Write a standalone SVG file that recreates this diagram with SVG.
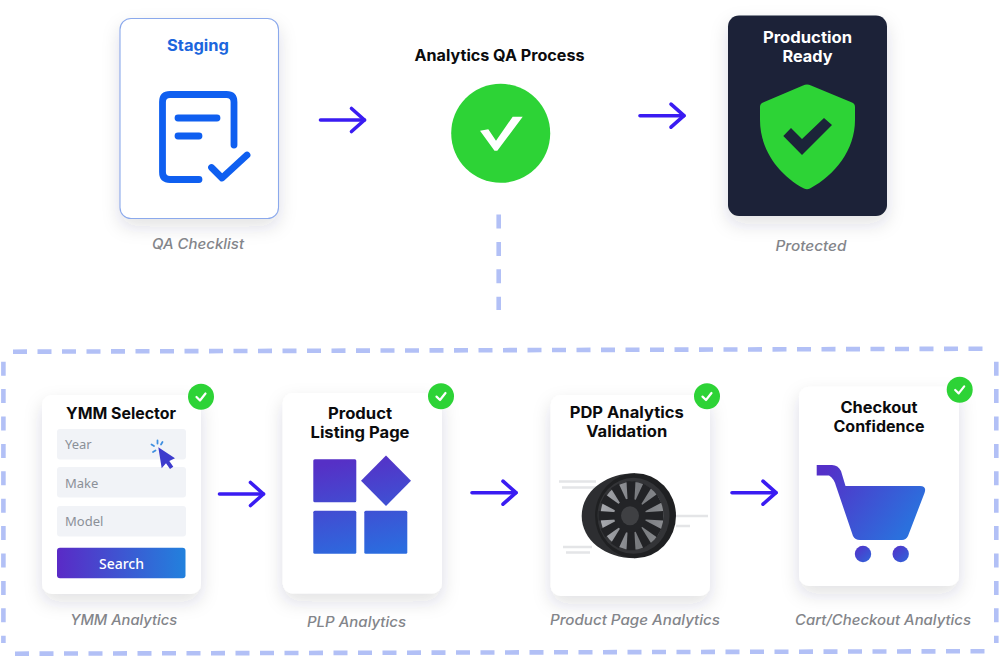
<svg xmlns="http://www.w3.org/2000/svg" width="1000" height="657" viewBox="0 0 1000 657">
<style>
text{font-family:Inter,"Liberation Sans",sans-serif;text-anchor:middle}
.t{font-size:15.5px;font-weight:700;fill:#0b0b0d}
.c{font-size:14px;font-style:italic;font-weight:500;fill:#83858a}
.f{font-size:13px;font-family:"Noto Sans","Liberation Sans",sans-serif;fill:#8b9098;text-anchor:start}
.card{fill:#fff;filter:url(#sh)}
.arr{fill:none;stroke:#3a1cf2;stroke-width:3.6;stroke-linecap:round;marker-end:url(#head)}
.dv{fill:none;stroke:#b2c0f6;stroke-width:4.6}
.fld{fill:#f1f3f7}
.badge{fill:#2dd336}
.bc{fill:none;stroke:#fff;stroke-width:2.2;stroke-linecap:round;stroke-linejoin:round}
.ic{fill:none;stroke:#0f5ff0;stroke-width:6.8;stroke-linecap:round;stroke-linejoin:round}
.ml{stroke:#e4e5e7;stroke-width:2.5}
</style>
<defs>
<filter id="sh" x="-30%" y="-30%" width="160%" height="160%"><feDropShadow dx="0" dy="8" stdDeviation="9" flood-color="#28304a" flood-opacity="0.14"/></filter>
<marker id="head" markerUnits="userSpaceOnUse" markerWidth="24" markerHeight="32" refX="16" refY="14" orient="auto" overflow="visible">
<path d="M3 2.500L16 14L3 25.500" fill="none" stroke="#3a1cf2" stroke-width="3.600" stroke-linecap="round" stroke-linejoin="round"/>
</marker>
<linearGradient id="btn" x1="0" y1="0" x2="1" y2="0"><stop offset="0" stop-color="#5a2ac6"/><stop offset="1" stop-color="#2281dd"/></linearGradient>
<linearGradient id="plp" gradientUnits="userSpaceOnUse" x1="350" y1="459" x2="370" y2="555"><stop offset="0" stop-color="#5630c6"/><stop offset="1" stop-color="#2b6cdf"/></linearGradient>
<linearGradient id="cart" gradientUnits="userSpaceOnUse" x1="825" y1="470" x2="905" y2="530"><stop offset="0" stop-color="#5430c8"/><stop offset="1" stop-color="#2b70dd"/></linearGradient>
<linearGradient id="cw" x1="0" y1="0" x2="1" y2="1"><stop offset="0" stop-color="#5430c8"/><stop offset="1" stop-color="#2f66da"/></linearGradient>
<linearGradient id="win" x1="0" y1="0" x2="1" y2="0"><stop offset="0" stop-color="#a9abb0"/><stop offset=".6" stop-color="#77797d"/><stop offset="1" stop-color="#8a8c90"/></linearGradient>
<path id="spoke" d="M-3.500 -12L3.500 -12L5 -36L-5 -36Z" fill="#222326"/>
</defs>
<rect width="1000" height="657" fill="#fff"/>

<g id="frame">
<path class="dv" stroke-dasharray="14 10.500" d="M13 351.700L985 348.700"/>
<path class="dv" stroke-dasharray="14 10.500" d="M15 653.700L987 651.200"/>
<path class="dv" stroke-dasharray="14 13.400" d="M3.400 361.700V643"/>
<path class="dv" stroke-dasharray="14 13.400" d="M996.300 361.700V643"/>
</g>

<g id="connectors">
<path class="dv" stroke-dasharray="14 13.400" d="M498.700 214.500V310"/>
<path class="arr" d="M320.500 120H364.500"/>
<path class="arr" d="M640 115.700H684"/>
<path class="arr" d="M219.500 494H263.500"/>
<path class="arr" d="M472 492.700H516"/>
<path class="arr" d="M732 492.700H776"/>
</g>

<g id="staging">
<rect class="card" x="120" y="18.500" width="158.500" height="200" rx="11"/>
<rect x="120" y="18.500" width="158.500" height="200" rx="11" fill="none" stroke="#8ba9ec" stroke-width="1.100"/>
<text class="t" x="198" y="51" style="fill:#1c66dd" textLength="62" lengthAdjust="spacingAndGlyphs">Staging</text>
<path class="ic" d="M199 179.500H170Q162.500 179.500 162.500 172V102Q162.500 94.500 170 94.500H226.500Q234 94.500 234 102V145"/>
<path class="ic" d="M178 118H217M178 136H199"/>
<path class="ic" d="M211.500 167.500L222 178L247 155"/>
<text class="c" x="198" y="249" textLength="92" lengthAdjust="spacingAndGlyphs">QA Checklist</text>
</g>

<g id="process">
<text class="t" x="499.500" y="61" textLength="170" lengthAdjust="spacingAndGlyphs">Analytics QA Process</text>
<circle cx="500.700" cy="133.300" r="49.500" fill="#2dd336"/>
<path d="M480 130.700L488.300 129.300L496 140.700L512.700 116.700L522.700 116.700L497.300 150.700H494.500Z" fill="#fff"/>
</g>

<g id="production">
<rect x="728" y="15.500" width="159" height="200.500" rx="11" fill="#1b2439" filter="url(#sh)"/>
<text class="t" x="807.500" y="43" style="fill:#fff" textLength="89" lengthAdjust="spacingAndGlyphs">Production</text>
<text class="t" x="807.500" y="62" style="fill:#fff" textLength="50" lengthAdjust="spacingAndGlyphs">Ready</text>
<path d="M807 84.500Q809 84.500 811 85.500L852 102.500Q855 103.800 855 107V120C855 150 835 175 810 188.500Q807 190 804 188.500C779 175 760 150 760 120V107Q760 103.800 763 102.500L803 85.500Q805 84.500 807 84.500Z" fill="#2dd336"/>
<path d="M783.300 136L791 128L802 139L824 118L832 125L802 155Z" fill="#1b2439"/>
<text class="c" x="811" y="251" textLength="71" lengthAdjust="spacingAndGlyphs">Protected</text>
</g>

<g id="ymm">
<rect class="card" x="42" y="395" width="159" height="199" rx="10"/>
<text class="t" x="121" y="419" textLength="110" lengthAdjust="spacingAndGlyphs">YMM Selector</text>
<rect class="fld" x="57" y="429" width="129" height="30.500" rx="3"/>
<rect class="fld" x="57" y="467" width="129" height="30.500" rx="3"/>
<rect class="fld" x="57" y="506" width="129" height="30.500" rx="3"/>
<text class="f" x="65" y="449">Year</text>
<text class="f" x="65" y="487.500">Make</text>
<text class="f" x="65" y="526">Model</text>
<rect x="57" y="547.700" width="128.500" height="30.500" rx="3" fill="url(#btn)"/>
<text x="121.500" y="568.500" fill="#fff" style="font-family:'Noto Sans','Liberation Sans',sans-serif;font-size:14px;font-weight:500">Search</text>
<path d="M158.300 447.300L175 458.300L169.300 461L173.300 466.700L170 469L166 463.300L161.700 468.300Z" fill="#3d3bcd"/>
<path d="M157.500 440.500V443.500M151.500 444.500L154 446M153 452L155.500 450.500M162.500 442L161 444.500" stroke="#3f8fe0" stroke-width="1.800" stroke-linecap="round" fill="none"/>
<circle class="badge" cx="201" cy="396.700" r="13"/>
<path class="bc" d="M196.500 397L200 400.500L205.500 393.500"/>
<text class="c" x="123.700" y="625" textLength="107" lengthAdjust="spacingAndGlyphs">YMM Analytics</text>
</g>

<g id="plp-node">
<rect class="card" x="282.700" y="393" width="159.300" height="200.500" rx="10"/>
<text class="t" x="360" y="418.500" textLength="64" lengthAdjust="spacingAndGlyphs">Product</text>
<text class="t" x="360" y="437.500" textLength="99" lengthAdjust="spacingAndGlyphs">Listing Page</text>
<rect x="313.300" y="459.300" width="43" height="43" rx="1.500" fill="url(#plp)"/>
<path d="M386 455.500L411 480.700L386 506L361 480.700Z" fill="url(#plp)"/>
<rect x="313.300" y="510.700" width="43" height="43" rx="1.500" fill="url(#plp)"/>
<rect x="364.300" y="510.700" width="43" height="43" rx="1.500" fill="url(#plp)"/>
<circle class="badge" cx="441" cy="396.300" r="13"/>
<path class="bc" d="M436.500 396.600L440 400L445.500 393"/>
<text class="c" x="356.500" y="626.500" textLength="99" lengthAdjust="spacingAndGlyphs">PLP Analytics</text>
</g>

<g id="pdp">
<rect class="card" x="550.700" y="395" width="159.300" height="201" rx="10"/>
<text class="t" x="626.700" y="417.500" textLength="114" lengthAdjust="spacingAndGlyphs">PDP Analytics</text>
<text class="t" x="626.700" y="436.500" textLength="81" lengthAdjust="spacingAndGlyphs">Validation</text>
<path class="ml" d="M559 481.500H596M562 487.500H596M676 516H708M676 526H690M563 547H592M566 552.500H590"/>
<path d="M635 473.300C605 473.300 581.700 492 581.700 516C581.700 540 605 558.300 635 558.300Z" fill="#2d2e31"/>
<ellipse cx="635.500" cy="515.800" rx="40.500" ry="42.500" fill="#1f2022"/>
<ellipse cx="633.500" cy="515.800" rx="36" ry="38" fill="#333437"/>
<ellipse cx="632" cy="515.800" rx="31.500" ry="34" fill="url(#win)"/>
<g transform="translate(631 515.800) scale(.9 .96)">
<use href="#spoke"/><use href="#spoke" transform="rotate(30)"/><use href="#spoke" transform="rotate(60)"/><use href="#spoke" transform="rotate(90)"/><use href="#spoke" transform="rotate(120)"/><use href="#spoke" transform="rotate(150)"/><use href="#spoke" transform="rotate(180)"/><use href="#spoke" transform="rotate(210)"/><use href="#spoke" transform="rotate(240)"/><use href="#spoke" transform="rotate(270)"/><use href="#spoke" transform="rotate(300)"/><use href="#spoke" transform="rotate(330)"/>
</g>
<ellipse cx="630" cy="515.700" rx="16" ry="17" fill="#232427"/>
<ellipse cx="630" cy="515.700" rx="9" ry="9.500" fill="#3f4043"/>
<circle class="badge" cx="707" cy="396.300" r="13"/>
<path class="bc" d="M702.500 396.600L706 400L711.500 393"/>
<text class="c" x="635" y="625" textLength="170" lengthAdjust="spacingAndGlyphs">Product Page Analytics</text>
</g>

<g id="checkout">
<rect class="card" x="799" y="386.700" width="160" height="199.300" rx="10"/>
<text class="t" x="879" y="413" textLength="77" lengthAdjust="spacingAndGlyphs">Checkout</text>
<text class="t" x="879" y="432" textLength="91" lengthAdjust="spacingAndGlyphs">Confidence</text>
<path d="M816.700 465H832Q838 465 841 471L845.500 486H920Q927 486 924.500 493L908 536Q906 540 902 540H860Q855 540 853 536L836 486Q834 478.500 829 475.500H816.700Z" fill="url(#cart)"/>
<circle cx="863" cy="554" r="8.200" fill="url(#cw)"/>
<circle cx="900.700" cy="554" r="8.200" fill="url(#cw)"/>
<circle class="badge" cx="959.700" cy="389.700" r="13"/>
<path class="bc" d="M955.200 390L958.700 393.400L964.200 386.400"/>
<text class="c" x="883" y="625" textLength="176" lengthAdjust="spacingAndGlyphs">Cart/Checkout Analytics</text>
</g>
</svg>
